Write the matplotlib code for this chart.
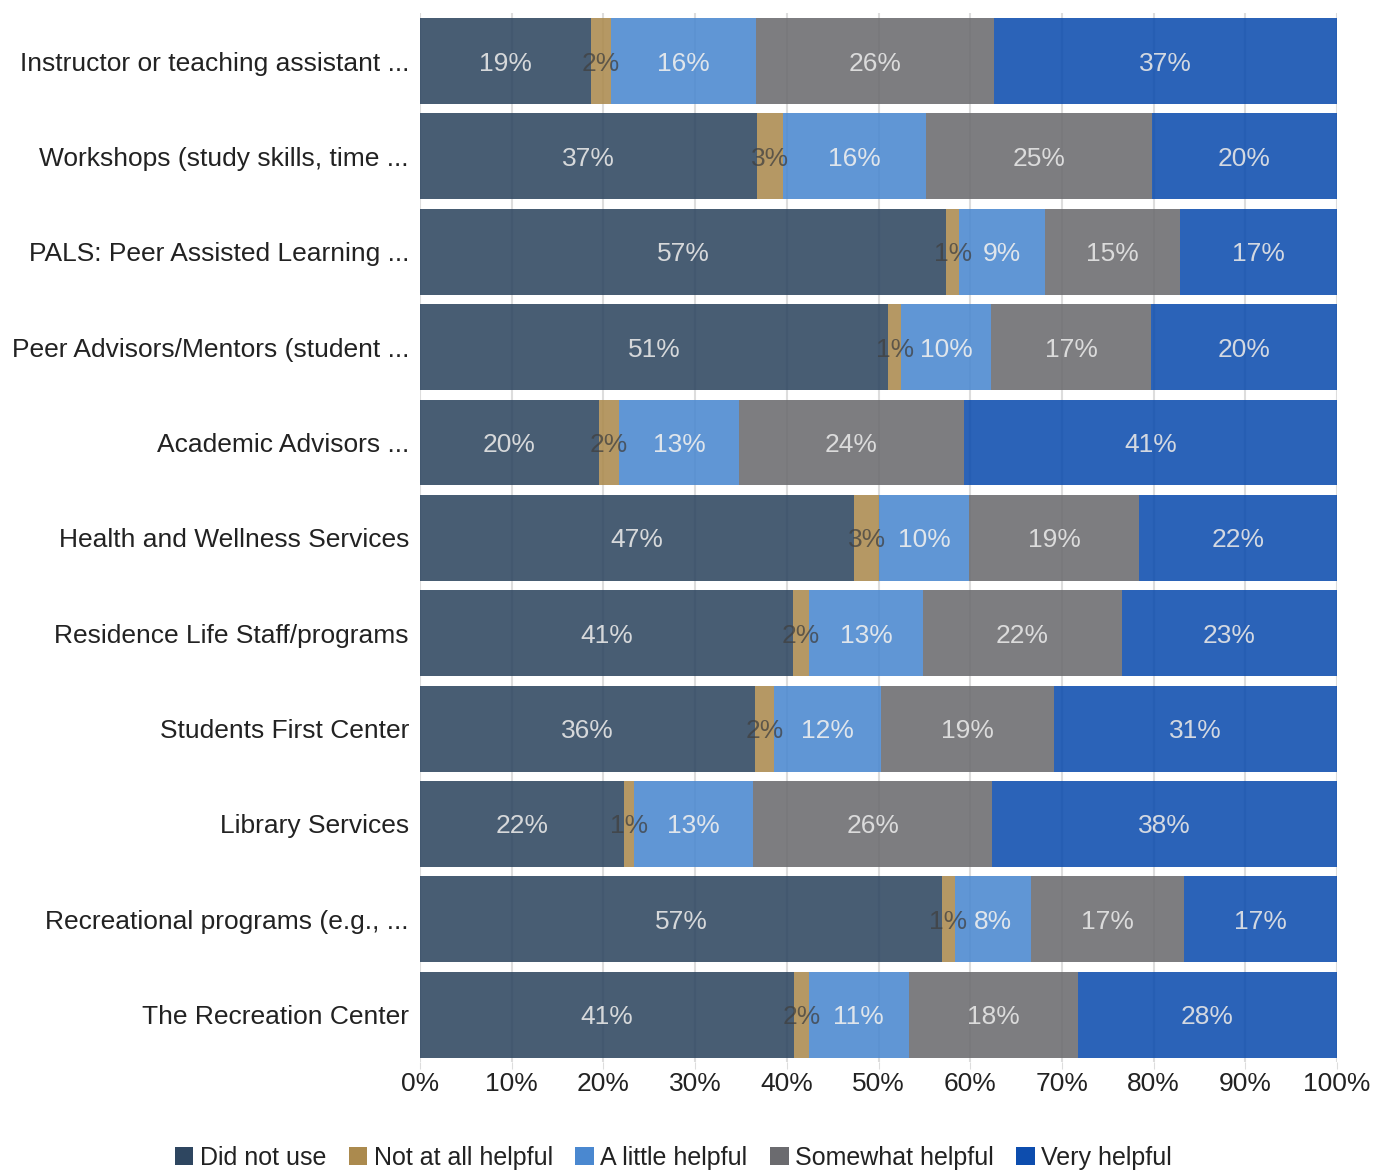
import matplotlib
matplotlib.use("Agg")
import matplotlib.pyplot as plt
from matplotlib.patches import Patch
import numpy as np

plt.rcParams['font.family'] = ['Liberation Sans', 'DejaVu Sans']

categories = [
    "Instructor or teaching assistant ...",
    "Workshops (study skills, time ...",
    "PALS: Peer Assisted Learning ...",
    "Peer Advisors/Mentors (student ...",
    "Academic Advisors ...",
    "Health and Wellness Services",
    "Residence Life Staff/programs",
    "Students First Center",
    "Library Services",
    "Recreational programs (e.g., ...",
    "The Recreation Center",
]
series = ["Did not use", "Not at all helpful", "A little helpful", "Somewhat helpful", "Very helpful"]

did_not_use = [18.6, 36.7, 57.4, 51.0, 19.5, 47.3, 40.7, 36.5, 22.2, 56.9, 40.8]
not_at_all  = [2.2, 2.9, 1.4, 1.5, 2.2, 2.8, 1.7, 2.1, 1.1, 1.4, 1.6]
a_little    = [15.8, 15.6, 9.4, 9.8, 13.1, 9.8, 12.5, 11.7, 13.0, 8.3, 10.9]
somewhat    = [26.0, 24.6, 14.7, 17.4, 24.5, 18.5, 21.6, 18.8, 26.1, 16.7, 18.4]
very        = [37.4, 20.2, 17.1, 20.3, 40.7, 21.6, 23.5, 30.9, 37.6, 16.7, 28.3]

lbl_did_not_use = [19, 37, 57, 51, 20, 47, 41, 36, 22, 57, 41]
lbl_not_at_all  = [2, 3, 1, 1, 2, 3, 2, 2, 1, 1, 2]
lbl_a_little    = [16, 16, 9, 10, 13, 10, 13, 12, 13, 8, 11]
lbl_somewhat    = [26, 25, 15, 17, 24, 19, 22, 19, 26, 17, 18]
lbl_very        = [37, 20, 17, 20, 41, 22, 23, 31, 38, 17, 28]

tick_labels = ["0%", "10%", "20%", "30%", "40%", "50%", "60%", "70%", "80%", "90%", "100%"]

colors = ["#2E4660", "#AB8A4E", "#4A88D0", "#6B6B6F", "#0D4DAE"]
text_colors = ["#E6E6E6", "#404040", "#EEEEEE", "#E6E6E6", "#E6E6E6"]

fig = plt.figure(figsize=(13.74, 11.72), dpi=100)
ax = fig.add_axes([0.3057, 0.0935, 0.6674, 0.8951])

data = [did_not_use, not_at_all, a_little, somewhat, very]
labels = [lbl_did_not_use, lbl_not_at_all, lbl_a_little, lbl_somewhat, lbl_very]
y = np.arange(len(categories))
left = np.zeros(len(categories))
for i, vals in enumerate(data):
    vals = np.array(vals)
    ax.barh(y, vals, left=left, height=0.9, color=colors[i], alpha=0.88, zorder=2, linewidth=0)
    for j, v in enumerate(vals):
        ax.text(left[j] + v / 2, y[j], f"{labels[i][j]}%", ha="center", va="center_baseline",
                fontsize=19, color=text_colors[i], alpha=0.9 if i != 1 else 0.75, zorder=3)
    left += vals

ax.set_xlim(0, 100)
ax.set_ylim(len(categories) - 0.5, -0.5)
ax.set_yticks(y)
ax.set_yticklabels(categories, fontsize=19, color="#222222")
ax.set_xticks(np.arange(0, 101, 10))
ax.set_xticklabels(tick_labels, fontsize=19, color="#222222")
ax.tick_params(axis="y", length=0, pad=8)
ax.tick_params(axis="x", length=5, color="#DDDDDD", pad=2)
ax.xaxis.grid(True, color="#DDDDDD", linewidth=1.5, zorder=0)
ax.set_axisbelow(True)
for s in ax.spines.values():
    s.set_visible(False)

handles = [Patch(facecolor=c, edgecolor="none") for c in colors]
fig.legend(handles, series, loc="center", bbox_to_anchor=(0.49, 0.012), ncol=5, frameon=False,
           fontsize=18, handlelength=0.75, handleheight=0.75, handletextpad=0.25, columnspacing=0.9,
           labelcolor="#222222")

fig.savefig("out.png", dpi=100)
